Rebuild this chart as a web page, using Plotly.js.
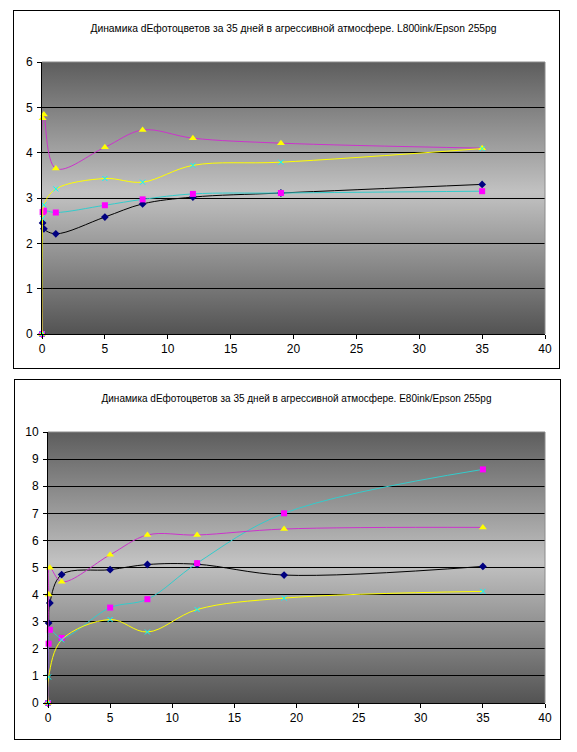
<!DOCTYPE html>
<html>
<head>
<meta charset="utf-8">
<script src="https://cdn.plot.ly/plotly-3.0.1.min.js"></script>
<style>
  html, body { margin: 0; padding: 0; background: #fff; }
  body { width: 577px; height: 752px; position: relative; overflow: hidden; }
  .box { position: absolute; border: 1px solid #000; box-sizing: border-box; background: #fff; }
  #c1 { left: 13px; top: 10px; width: 547px; height: 359px; }
  #c2 { left: 14px; top: 379px; width: 547px; height: 361px; }
</style>
</head>
<body>
<div id="c1" class="box"></div>
<div id="c2" class="box"></div>
<script>
// ---- data ----
const days = [0, 0.05, 0.15, 1.1, 5, 8, 12, 19, 35];

const titleTop = "Динамика dEфотоцветов за 35 дней в агрессивной атмосфере. L800ink/Epson 255pg";
const l800_s1 = [0, 2.45, 2.32, 2.21, 2.58, 2.87, 3.02, 3.11, 3.30];
const l800_s2 = [0, 2.69, 2.72, 2.68, 2.84, 2.97, 3.09, 3.11, 3.15];
const l800_s3 = [0, 4.76, 4.84, 3.65, 4.12, 4.50, 4.32, 4.21, 4.10];
const l800_s4 = [0, 2.55, 2.85, 3.20, 3.43, 3.35, 3.72, 3.79, 4.09];

const titleBottom = "Динамика dEфотоцветов за 35 дней в агрессивной атмосфере. E80ink/Epson 255pg";
const e80_s1 = [0, 2.95, 3.69, 4.74, 4.92, 5.11, 5.12, 4.72, 5.04];
const e80_s2 = [0, 2.19, 2.70, 2.40, 3.52, 3.83, 5.16, 7.00, 8.62];
const e80_s3 = [0, 4.00, 4.99, 4.47, 5.47, 6.20, 6.20, 6.42, 6.48];
const e80_s4 = [0, 0.96, null, 2.33, 3.08, 2.62, 3.45, 3.87, 4.12];

const xTicks = [0, 5, 10, 15, 20, 25, 30, 35, 40];
const yTicksTop = [0, 1, 2, 3, 4, 5, 6];
const yTicksBottom = [0, 1, 2, 3, 4, 5, 6, 7, 8, 9, 10];

// ---- styles ----
const styles = [
  { line: '#000000', marker: { symbol: 'diamond', size: 6, color: '#000080' } },
  { line: '#33CCCC', marker: { symbol: 'square', size: 6, color: '#FF00FF' } },
  { line: '#CC33CC', marker: { symbol: 'triangle-up', size: 7, color: '#FFFF00' } },
  { line: '#FFFF00', marker: { symbol: 'x-thin', size: 5, color: '#00FFFF', line: { width: 1, color: '#00FFFF' } } }
];

const gradSvg = '<svg xmlns="http://www.w3.org/2000/svg" width="10" height="100" viewBox="0 0 10 100" preserveAspectRatio="none">' +
  '<defs><linearGradient id="g" x1="0" y1="0" x2="0" y2="1">' +
  '<stop offset="0" stop-color="#5d5d5d"/>' +
  '<stop offset="0.48" stop-color="#c2c2c2"/>' +
  '<stop offset="1" stop-color="#535353"/>' +
  '</linearGradient></defs><rect x="0" y="0" width="10" height="100" fill="url(#g)"/></svg>';
const gradUri = 'data:image/svg+xml;charset=utf-8,' + encodeURIComponent(gradSvg);

function makeChart(id, title, series, yTicks, yMax, w, h, m, titleY, titleSize) {
  const traces = series.map((ys, i) => ({
    type: 'scatter', mode: 'lines+markers',
    x: days, y: ys, connectgaps: true,
    line: { color: styles[i].line, width: 1, shape: 'spline', smoothing: 1 },
    marker: styles[i].marker,
    cliponaxis: false,
    showlegend: false
  }));
  traces.push({ type: 'scatter', x: [], y: [], yaxis: 'y2', showlegend: false, hoverinfo: 'skip' });
  const gridVals = yTicks.filter(v => v > 0 && v < yMax);
  const layout = {
    width: w, height: h,
    margin: m,
    paper_bgcolor: '#ffffff',
    plot_bgcolor: 'rgba(0,0,0,0)',
    font: { family: 'Liberation Sans, Arial, sans-serif', size: 12, color: '#000' },
    title: { text: title, font: { size: titleSize, color: '#000' }, x: 0.5, xanchor: 'center',
             xref: 'paper', yref: 'container', y: titleY, yanchor: 'middle' },
    xaxis: {
      range: [0, 40], tickvals: xTicks, ticktext: xTicks.map(String),
      showgrid: false, zeroline: false,
      showline: true, linecolor: '#000', linewidth: 1,
      ticks: 'outside', ticklen: 4, tickcolor: '#000', tickwidth: 1,
      tickfont: { size: 12 }, fixedrange: true
    },
    yaxis: {
      range: [0, yMax], tickvals: yTicks, ticktext: yTicks.map(String),
      showgrid: false, zeroline: false,
      showline: true, linecolor: '#000', linewidth: 1,
      ticks: 'outside', ticklen: 4, tickcolor: '#000', tickwidth: 1,
      tickfont: { size: 12 }, ticklabelstandoff: 2, fixedrange: true
    },
    yaxis2: {
      overlaying: 'y', side: 'left', range: [0, yMax],
      tickvals: gridVals, showticklabels: false, ticks: '',
      showgrid: true, gridcolor: '#000', gridwidth: 1,
      zeroline: false, showline: false, fixedrange: true
    },
    images: [{
      source: gradUri, xref: 'paper', yref: 'paper', x: 0, y: 1,
      sizex: 1, sizey: 1, xanchor: 'left', yanchor: 'top',
      sizing: 'stretch', layer: 'below'
    }],
    shapes: [{
      type: 'line', xref: 'paper', yref: 'paper', x0: 1, x1: 1, y0: 0, y1: 1,
      line: { color: '#8a8a8a', width: 1 }
    }, {
      type: 'line', xref: 'paper', yref: 'paper', x0: 0, x1: 1, y0: 1, y1: 1,
      line: { color: '#8a8a8a', width: 1 }
    }]
  };
  Plotly.newPlot(id, traces, layout, { staticPlot: true, displayModeBar: false });
}

makeChart('c1', titleTop, [l800_s1, l800_s2, l800_s3, l800_s4], yTicksTop, 6,
  545, 357, { l: 28, r: 14, t: 51, b: 34, pad: 0 }, 1 - 17 / 357, 10.3);
makeChart('c2', titleBottom, [e80_s1, e80_s2, e80_s3, e80_s4], yTicksBottom, 10,
  545, 359, { l: 33, r: 15, t: 52, b: 36, pad: 0 }, 1 - 18 / 359, 10);
</script>
</body>
</html>
